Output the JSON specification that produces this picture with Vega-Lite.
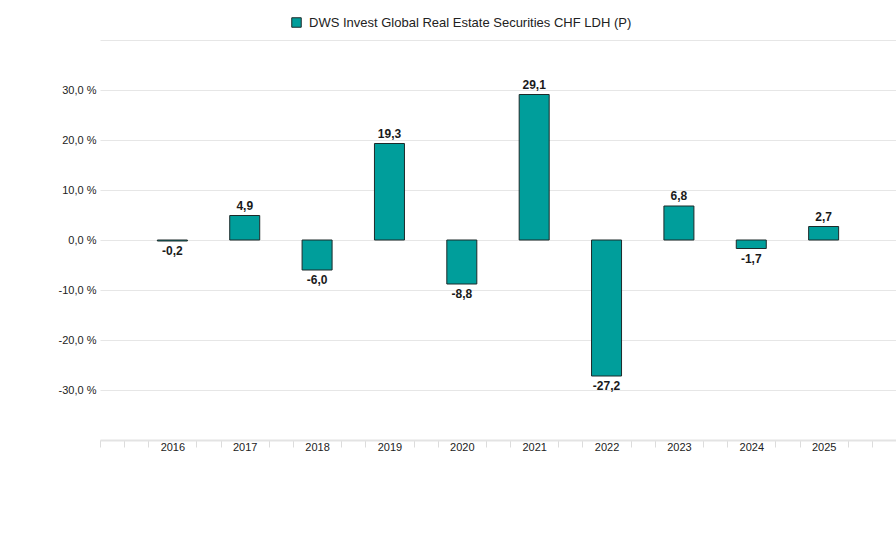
{
  "$schema": "https://vega.github.io/schema/vega-lite/v6.json",
  "width": 796,
  "height": 400,
  "autosize": {"type": "none"},
  "padding": {"left": 100, "top": 40, "right": 0, "bottom": 115},
  "background": "white",
  "config": {
    "view": {"stroke": null},
    "font": "Liberation Sans",
    "locale": {"number": {"decimal": ",", "thousands": ".", "grouping": [3], "currency": ["", " €"], "minus": "-"}}
  },
  "data": {
    "values": [
      {"year": 2016, "value": -0.2, "series": "DWS Invest Global Real Estate Securities CHF LDH (P)"},
      {"year": 2017, "value": 4.9, "series": "DWS Invest Global Real Estate Securities CHF LDH (P)"},
      {"year": 2018, "value": -6.0, "series": "DWS Invest Global Real Estate Securities CHF LDH (P)"},
      {"year": 2019, "value": 19.3, "series": "DWS Invest Global Real Estate Securities CHF LDH (P)"},
      {"year": 2020, "value": -8.8, "series": "DWS Invest Global Real Estate Securities CHF LDH (P)"},
      {"year": 2021, "value": 29.1, "series": "DWS Invest Global Real Estate Securities CHF LDH (P)"},
      {"year": 2022, "value": -27.2, "series": "DWS Invest Global Real Estate Securities CHF LDH (P)"},
      {"year": 2023, "value": 6.8, "series": "DWS Invest Global Real Estate Securities CHF LDH (P)"},
      {"year": 2024, "value": -1.7, "series": "DWS Invest Global Real Estate Securities CHF LDH (P)"},
      {"year": 2025, "value": 2.7, "series": "DWS Invest Global Real Estate Securities CHF LDH (P)"}
    ]
  },
  "encoding": {
    "x": {
      "field": "year",
      "type": "quantitative",
      "scale": {"domain": [2015, 2026], "nice": false, "zero": false, "padding": 0},
      "axis": {
        "title": null,
        "grid": false,
        "values": [2015, 2015.333333, 2015.666667, 2016, 2016.333333, 2016.666667, 2017, 2017.333333, 2017.666667, 2018, 2018.333333, 2018.666667, 2019, 2019.333333, 2019.666667, 2020, 2020.333333, 2020.666667, 2021, 2021.333333, 2021.666667, 2022, 2022.333333, 2022.666667, 2023, 2023.333333, 2023.666667, 2024, 2024.333333, 2024.666667, 2025, 2025.333333, 2025.666667, 2026],
        "labelExpr": "(datum.value % 1 == 0 && datum.value > 2015 && datum.value < 2026) ? ('' + datum.value) : ''",
        "labelOverlap": false,
        "labelFlush": false,
        "labelBound": false,
        "labelFontSize": 11,
        "labelColor": "#222",
        "labelPadding": -6,
        "tickSize": 7,
        "tickColor": "#dcdcdc",
        "tickOpacity": {"condition": {"test": "datum.value % 1 == 0 && datum.value > 2015 && datum.value < 2026", "value": 0}, "value": 1},
        "domainColor": "#e3e3e3",
        "domainWidth": 2
      }
    },
    "y": {
      "field": "value",
      "type": "quantitative",
      "scale": {"domain": [-40, 40], "nice": false},
      "axis": {
        "title": null,
        "values": [-40, -30, -20, -10, 0, 10, 20, 30, 40],
        "labelExpr": "abs(datum.value) == 40 ? '' : replace(replace(format(datum.value, '.1f'), '.', ','), '\u2212', '-') + ' %'",
        "domain": false,
        "ticks": false,
        "labelPadding": 4,
        "labelFontSize": 11,
        "labelColor": "#222",
        "gridColor": "#e6e6e6",
        "gridWidth": 1
      }
    }
  },
  "layer": [
    {
      "mark": {"type": "bar", "size": 30, "stroke": "#1d2a2a", "strokeWidth": 1},
      "encoding": {
        "color": {
          "field": "series",
          "type": "nominal",
          "scale": {"range": ["#009e9b"]},
          "legend": {
            "title": null,
            "orient": "none",
            "legendX": 190,
            "legendY": -24,
            "padding": 0,
            "symbolType": "square",
            "symbolSize": 90,
            "symbolStrokeColor": "#1d2a2a",
            "symbolStrokeWidth": 1,
            "symbolOpacity": 1,
            "labelFontSize": 13,
            "labelColor": "#222",
            "labelOffset": 6,
            "labelLimit": 0
          }
        }
      }
    },
    {
      "transform": [{"filter": "datum.value >= 0"}],
      "mark": {"type": "text", "baseline": "bottom", "dy": -3, "fontSize": 12, "fontWeight": "bold", "color": "#1a1a1a"},
      "encoding": {"text": {"field": "value", "type": "quantitative", "format": ".1f"}}
    },
    {
      "transform": [{"filter": "datum.value < 0"}],
      "mark": {"type": "text", "baseline": "top", "dy": 5, "fontSize": 12, "fontWeight": "bold", "color": "#1a1a1a"},
      "encoding": {"text": {"field": "value", "type": "quantitative", "format": ".1f"}}
    }
  ]
}
